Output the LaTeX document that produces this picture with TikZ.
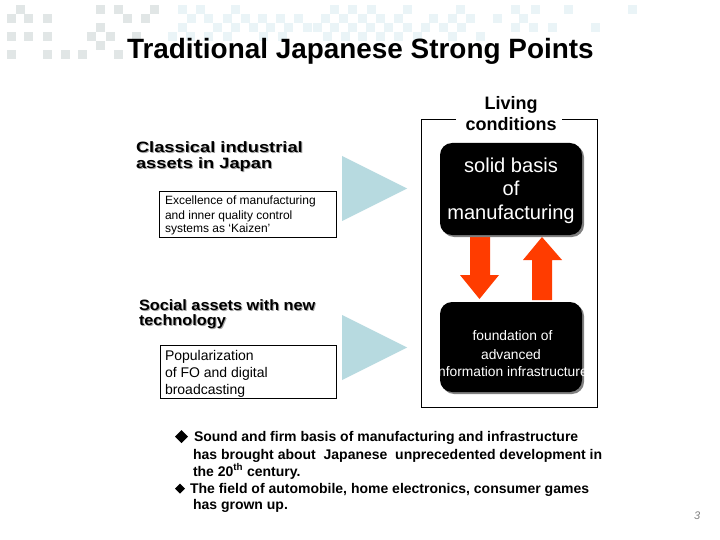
\documentclass[tikz,border=0pt]{standalone}
\usepackage{fontspec}
\setmainfont{Liberation Sans}
\newfontfamily\widefont[FakeStretch=1.22]{Liberation Sans Bold}
\newfontfamily\midfont[FakeStretch=1.085]{Liberation Sans Bold}
\usetikzlibrary{calc}
\definecolor{greysq}{HTML}{E1E6E6}
\definecolor{bluesq}{HTML}{EAF4F7}
\definecolor{tri}{HTML}{B7DAE0}
\definecolor{redarrow}{HTML}{FF3C00}
\definecolor{shadowgrey}{HTML}{808080}
\tikzset{
  txt/.style={anchor=base west,inner sep=0pt,outer sep=0pt},
  ctr/.style={anchor=base,inner sep=0pt,outer sep=0pt},
  head/.style={txt,font=\widefont\fontsize{15}{15}\selectfont},
  headb/.style={txt,font=\midfont\fontsize{15}{15}\selectfont},
  bodytxt/.style={txt,font=\bfseries\fontsize{14}{14}\selectfont},
  framed/.style={draw=black,line width=0.9pt,fill=white},
  blackbox/.style={fill=black,rounded corners=12pt},
  shadowbox/.style={fill=shadowgrey,rounded corners=12pt},
}
\newcommand{\sq}[3]{\foreach \xx in {#3} \fill[#1] (\xx-4.5,#2-4.5) rectangle (\xx+4.5,#2+4.5);}
\begin{document}
\begin{tikzpicture}[x=1pt,y=-1pt]
\useasboundingbox (0,0) rectangle (720,540);
\fill[white] (0,0) rectangle (720,540);
% background squares
\sq{greysq}{10}{20,100,118,154}
\sq{greysq}{19}{11,28,47,127,145}
\sq{greysq}{28}{100}
\sq{greysq}{37}{11,28,47,91,110,136}
\sq{greysq}{46}{100}
\sq{greysq}{55}{11,47,65,82,118}
\sq{bluesq}{10}{182,200,235,334,352,371,407,460,515,535,568,632}
\sq{bluesq}{19}{191,208,227,245,262,280,298,325,343,362,380,398,433,452,470,497,523}
\sq{bluesq}{28}{182,217,235,253,270,288,307,317,334,352,370,388,407,425,443,461,515,533,552,595}
\sq{bluesq}{37}{172,190,208,227,263,282,327,345,362,380,398,417,452,480}
% title
\node[txt,font=\bfseries\fontsize{27.9}{27.9}\selectfont] (title) at (127,59) {Traditional Japanese Strong Points};
% frame
\draw[black,line width=0.9pt] (456,119.5) -- (421.5,119.5) -- (421.5,407) -- (597.5,407) -- (597.5,119.5) -- (562,119.5);
\node[ctr,font=\bfseries\fontsize{18}{18}\selectfont] (living) at (511,110) {Living};
\node[ctr,font=\bfseries\fontsize{18}{18}\selectfont] (cond) at (511,130.5) {conditions};
% headings
\foreach \n/\px/\py/\t in {a/136/153/Classical industrial,b/136/169/assets in Japan}{
  \node[head,text=shadowgrey!70] (sh\n) at (\px+1,\py+1) {\t};
  \node[head] (hd\n) at (\px,\py) {\t};
}
\foreach \n/\px/\py/\t in {c/139/310/Social assets with new,d/139/325/technology}{
  \node[headb,text=shadowgrey!70] (sh\n) at (\px+1,\py+1) {\t};
  \node[headb] (hd\n) at (\px,\py) {\t};
}
% boxes
\draw[framed] (159.5,191.5) rectangle (336,237.5);
\node[txt,font=\fontsize{12}{12}\selectfont] (e1) at (165,205) {Excellence of manufacturing};
\node[txt,font=\fontsize{12}{12}\selectfont] (e2) at (165,219) {and inner quality control};
\node[txt,font=\fontsize{12}{12}\selectfont] (e3) at (165,233) {systems as `Kaizen'};
\draw[framed] (160.5,345.5) rectangle (336,398.5);
\node[txt,font=\fontsize{14}{14}\selectfont] (p1) at (165,360) {Popularization};
\node[txt,font=\fontsize{14}{14}\selectfont] (p2) at (165,377) {of FO and digital};
\node[txt,font=\fontsize{14}{14}\selectfont] (p3) at (165,394) {broadcasting};
% triangles
\fill[tri] (342,156) -- (407,188.5) -- (342,221) -- cycle;
\fill[tri] (342,315) -- (407,347.5) -- (342,380) -- cycle;
% red arrows
\fill[redarrow] (470,232) -- (490,232) -- (490,275) -- (499,275) -- (479.5,299) -- (460,275) -- (470,275) -- cycle;
\fill[redarrow] (532,300) -- (552,300) -- (552,260) -- (562,260) -- (542,237) -- (523,260) -- (532,260) -- cycle;
% black boxes
\fill[shadowbox] (442,145) rectangle (584,237);
\fill[blackbox] (440,143) rectangle (582,235);
\fill[shadowbox] (442,304) rectangle (584,394);
\fill[blackbox] (440,302) rectangle (582,392);
\node[ctr,text=white,font=\fontsize{20.1}{20.1}\selectfont] (s1) at (511,173) {solid basis};
\node[ctr,text=white,font=\fontsize{20.1}{20.1}\selectfont] (s2) at (511,196) {of};
\node[ctr,text=white,font=\fontsize{20.1}{20.1}\selectfont] (s3) at (511,220) {manufacturing};
\node[ctr,text=white,font=\fontsize{13.8}{13.8}\selectfont] (f1) at (512.5,340) {foundation of};
\node[ctr,text=white,font=\fontsize{13.8}{13.8}\selectfont] (f2) at (511,359) {advanced};
\node[ctr,text=white,font=\fontsize{13.8}{13.8}\selectfont] (f3) at (511,376) {Information infrastructure};
% bottom text
\fill[black] (175,436.5) -- (181.5,430) -- (188,436.5) -- (181.5,443) -- cycle;
\node[bodytxt] (b1) at (194,441) {Sound and firm basis of manufacturing and infrastructure};
\node[bodytxt] (b2) at (193,459) {has brought about~ Japanese~ unprecedented development in};
\node[bodytxt] (b3) at (193,476) {the 20\textsuperscript{th} century.};
\fill[black] (175,488.5) -- (180,483.5) -- (185,488.5) -- (180,493.5) -- cycle;
\node[bodytxt] (b4) at (190,493) {The field of automobile, home electronics, consumer games};
\node[bodytxt] (b5) at (193,509) {has grown up.};
\node[txt,text=black!50,font=\itshape\fontsize{11}{11}\selectfont] (pg) at (694,519) {3};
\end{tikzpicture}
\end{document}
